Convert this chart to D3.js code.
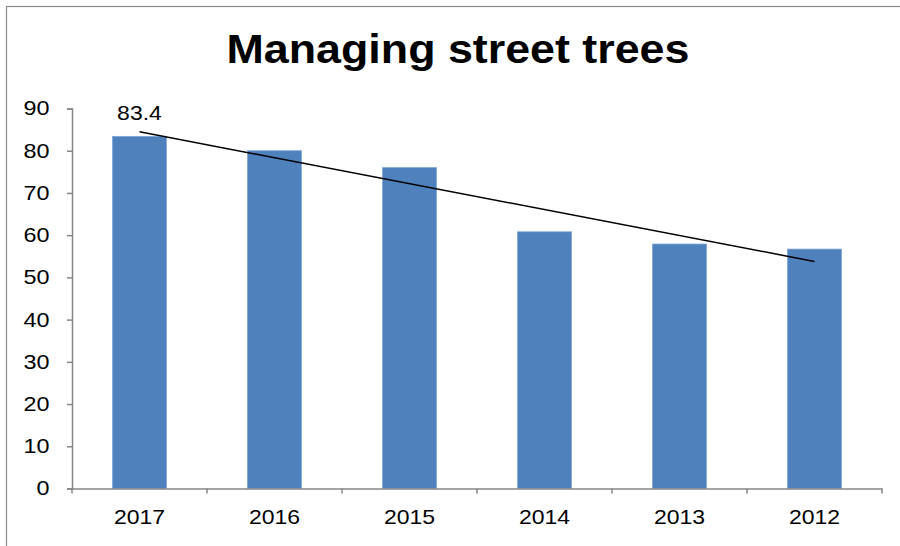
<!DOCTYPE html>
<html>
<head>
<meta charset="utf-8">
<script src="https://cdn.jsdelivr.net/npm/d3@7"></script>
<style>
  html, body { margin: 0; padding: 0; background: #ffffff; }
  svg { display: block; }
  text { font-family: Arial, "Liberation Sans", sans-serif; }
</style>
</head>
<body>
<svg id="chart" width="900" height="546"></svg>
<script>
const title = "Managing street trees";
const categories = ["2017", "2016", "2015", "2014", "2013", "2012"];
const values = [83.4, 80, 76, 60.8, 57.9, 56.7];
const yTicks = [0, 10, 20, 30, 40, 50, 60, 70, 80, 90];
const labelledIndex = 0;

const W = 900, H = 546;
const svg = d3.select("#chart");

// horizontal stretch of text about its own anchor x (reference glyphs are wider)
function stretch(sel, sx) {
  sel.each(function () {
    const t = d3.select(this);
    const ax = +t.attr("x") || 0;
    t.attr("transform", `matrix(${sx},0,0,1,${(1 - sx) * ax},0)`);
  });
}

// outer chart frame
svg.append("rect")
  .attr("x", 6.5).attr("y", 6.5)
  .attr("width", W + 10).attr("height", H + 10)
  .attr("fill", "#ffffff")
  .attr("stroke", "#8c8c8c").attr("stroke-width", 1.2);

const plot = { left: 72, right: 882, top: 108.5, bottom: 488.5 };

const x = d3.scaleBand()
  .domain(categories)
  .range([plot.left, plot.right])
  .paddingInner(0.6).paddingOuter(0.3);

const xOuter = d3.scaleBand()
  .domain(categories)
  .range([plot.left, plot.right]);

const y = d3.scaleLinear().domain([0, 90]).range([plot.bottom, plot.top]);

// title
svg.append("text")
  .attr("x", 458).attr("y", 63.5)
  .attr("text-anchor", "middle")
  .attr("font-size", 40).attr("font-weight", "bold")
  .attr("fill", "#000")
  .text(title)
  .call(stretch, 1.12);

// bars
svg.append("g").selectAll("rect")
  .data(values)
  .join("rect")
  .attr("x", (d, i) => xOuter(categories[i]) + xOuter.bandwidth() / 2 - x.bandwidth() / 2)
  .attr("y", d => y(d))
  .attr("width", x.bandwidth())
  .attr("height", d => y(0) - y(d))
  .attr("fill", "#4F81BD")
  .attr("stroke", "#7ea6d8").attr("stroke-width", 0.8);

// y axis
const yAxis = d3.axisLeft(y).tickValues(yTicks).tickSize(5).tickPadding(17.5);
const gy = svg.append("g").attr("transform", `translate(${plot.left},0)`).call(yAxis);
gy.select(".domain").attr("stroke", "#868686").attr("stroke-width", 1.5);
gy.selectAll(".tick line").attr("stroke", "#868686").attr("stroke-width", 1.5);
gy.selectAll(".tick text").attr("font-size", 20).attr("fill", "#000")
  .attr("font-family", "Arial, 'Liberation Sans', sans-serif")
  .call(stretch, 1.17);

// x axis
const xAxis = d3.axisBottom(xOuter).tickSize(0).tickPadding(21.5);
const gx = svg.append("g").attr("transform", `translate(0,${plot.bottom})`).call(xAxis);
gx.select(".domain").attr("stroke", "#868686").attr("stroke-width", 1.5);
gx.selectAll(".tick text").attr("font-size", 20).attr("fill", "#000")
  .attr("font-family", "Arial, 'Liberation Sans', sans-serif")
  .call(stretch, 1.15);
// category boundary ticks
const bounds = categories.map(c => xOuter(c)).concat([plot.right]);
gx.append("g").selectAll("line")
  .data(bounds)
  .join("line")
  .attr("x1", d => d).attr("x2", d => d)
  .attr("y1", 0).attr("y2", 5)
  .attr("stroke", "#868686").attr("stroke-width", 1.5);

// linear trend line (least squares)
const n = values.length;
const xs = d3.range(n);
const mx = d3.mean(xs), my = d3.mean(values);
const slope = d3.sum(xs, i => (i - mx) * (values[i] - my)) / d3.sum(xs, i => (i - mx) ** 2);
const intercept = my - slope * mx;
const center = i => xOuter(categories[i]) + xOuter.bandwidth() / 2;
svg.append("line")
  .attr("x1", center(0)).attr("y1", y(intercept))
  .attr("x2", center(n - 1)).attr("y2", y(intercept + slope * (n - 1)))
  .attr("stroke", "#000").attr("stroke-width", 1.5);

// data label
svg.append("text")
  .attr("x", center(labelledIndex))
  .attr("y", 120)
  .attr("text-anchor", "middle")
  .attr("font-size", 20).attr("fill", "#000")
  .text(values[labelledIndex])
  .call(stretch, 1.15);
</script>
</body>
</html>
